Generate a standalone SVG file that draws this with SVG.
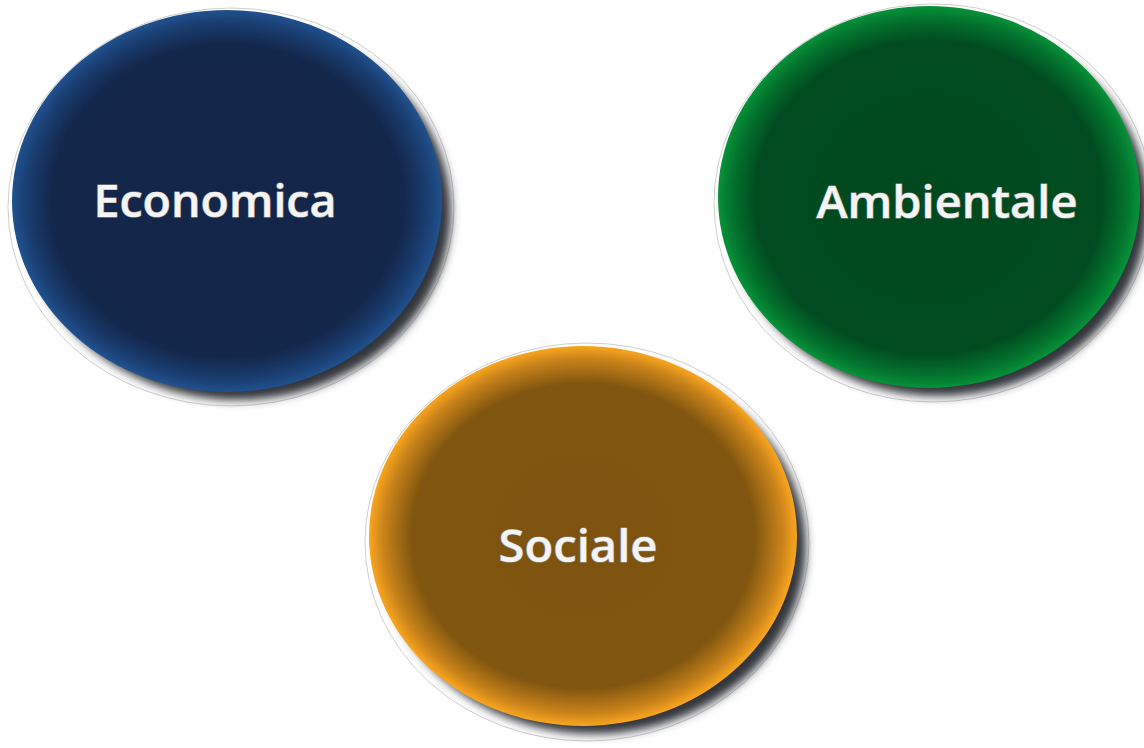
<svg xmlns="http://www.w3.org/2000/svg" width="1144" height="748" viewBox="0 0 1144 748">
  <defs>
    <radialGradient id="gBlue" cx="0.5" cy="0.5" r="0.5">
      <stop offset="0" stop-color="#13264a"/>
      <stop offset="0.82" stop-color="#13274b"/>
      <stop offset="0.94" stop-color="#1a3f73"/>
      <stop offset="1" stop-color="#21518f"/>
    </radialGradient>
    <radialGradient id="gGreen" cx="0.5" cy="0.5" r="0.5">
      <stop offset="0" stop-color="#00481e"/>
      <stop offset="0.82" stop-color="#014b20"/>
      <stop offset="0.94" stop-color="#03752e"/>
      <stop offset="1" stop-color="#07923a"/>
    </radialGradient>
    <radialGradient id="gOrange" cx="0.5" cy="0.5" r="0.5">
      <stop offset="0" stop-color="#7e530f"/>
      <stop offset="0.8" stop-color="#80550f"/>
      <stop offset="0.93" stop-color="#c8821a"/>
      <stop offset="1" stop-color="#f9a51f"/>
    </radialGradient>
    <filter id="shadow" x="-20%" y="-20%" width="140%" height="140%">
      <feGaussianBlur stdDeviation="5"/>
    </filter>
  </defs>
  <style>
    .lbl { font-family: "Open Sans", "Noto Sans", "DejaVu Sans", sans-serif; font-weight: 600; fill: #f4f4f4; stroke: #9a9a9a; stroke-width: 1.2; paint-order: stroke; text-anchor: middle; }
    .shd { fill: #33363b; }
    .outl { fill: #ffffff; stroke: #cfcfcf; stroke-width: 1; }
  </style>
  <rect width="1144" height="748" fill="#ffffff"/>

  <g id="node-economica">
    <ellipse class="outl" cx="231" cy="207" rx="223" ry="199"/>
    <ellipse class="shd" cx="238" cy="212" rx="213" ry="188" filter="url(#shadow)"/>
    <ellipse cx="227" cy="201" rx="215" ry="191" fill="url(#gBlue)"/>
    <text class="lbl" x="215" y="217" font-size="46" textLength="243" lengthAdjust="spacingAndGlyphs">Economica</text>
  </g>

  <g id="node-ambientale">
    <ellipse class="outl" cx="933" cy="203" rx="219" ry="199"/>
    <ellipse class="shd" cx="939" cy="208" rx="209" ry="188" filter="url(#shadow)"/>
    <ellipse cx="929" cy="197" rx="211" ry="191" fill="url(#gGreen)"/>
    <text class="lbl" x="947" y="218" font-size="46" textLength="261" lengthAdjust="spacingAndGlyphs">Ambientale</text>
  </g>

  <g id="node-sociale">
    <ellipse class="outl" cx="587" cy="542" rx="222" ry="199"/>
    <ellipse class="shd" cx="594" cy="547" rx="212" ry="187" filter="url(#shadow)"/>
    <ellipse cx="583" cy="536" rx="214" ry="190" fill="url(#gOrange)"/>
    <text class="lbl" x="578" y="562" font-size="46" textLength="159" lengthAdjust="spacingAndGlyphs">Sociale</text>
  </g>

  <g id="connectors"/>
</svg>
